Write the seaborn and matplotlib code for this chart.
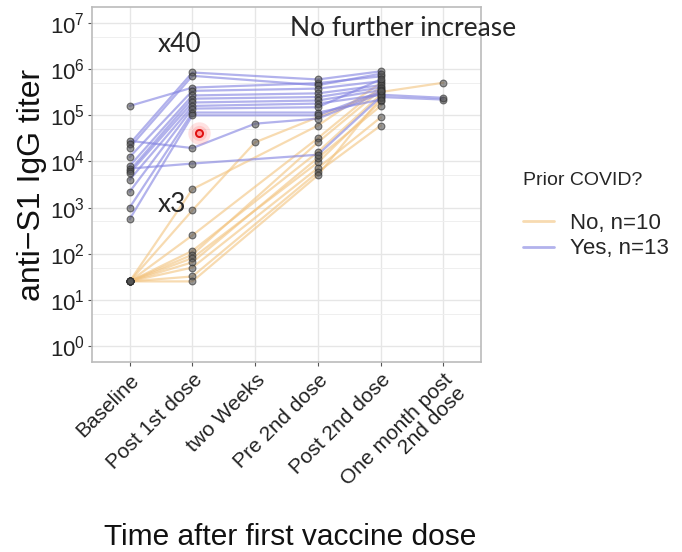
import numpy as np
import pandas as pd
import matplotlib
matplotlib.use("Agg")
import matplotlib.pyplot as plt
from matplotlib.ticker import FixedLocator, LogFormatterMathtext, NullFormatter
import seaborn as sns

# Sampling time points (x axis order)
timepoints = ["Baseline", "Post 1st dose", "two Weeks", "Pre 2nd dose",
              "Post 2nd dose", "One month post\n2nd dose"]

nan = np.nan
# anti-S1 IgG titers per participant: Baseline, Post 1st, two Weeks, Pre 2nd, Post 2nd, One month
prior_yes = [
    [160000, 400000, nan, 500000, 700000, nan],
    [28000, 19500, 66000, 85000, 300000, nan],
    [24000, 850000, nan, 600000, 900000, nan],
    [20000, 720000, nan, 450000, 800000, nan],
    [12500, 340000, nan, 380000, 550000, nan],
    [8000, 270000, nan, 300000, 450000, nan],
    [7000, 9000, nan, 14000, 250000, 220000],
    [6300, 230000, nan, 250000, 400000, nan],
    [5600, 190000, nan, 210000, 350000, nan],
    [4000, 160000, nan, 180000, 280000, 240000],
    [2200, 140000, nan, 150000, 600000, nan],
    [1000, 115000, nan, 115000, 220000, nan],
    [560, 100000, nan, 100000, 330000, nan],
]
prior_no = [
    [25, 2500, nan, 60000, 500000, nan],
    [25, 870, 26000, nan, 320000, 510000],
    [25, 250, nan, 32000, 420000, nan],
    [25, 115, nan, 16000, 280000, nan],
    [25, 95, nan, 26000, 350000, nan],
    [25, 80, nan, 9500, 200000, nan],
    [25, 65, nan, 12000, 160000, nan],
    [25, 50, nan, 7200, 90000, nan],
    [25, 32, nan, 5900, 60000, nan],
    [25, 25, nan, 5000, 240000, nan],
]
group_labels = ["No, n=10", "Yes, n=13"]

rows = []
for label, series in [(group_labels[0], prior_no), (group_labels[1], prior_yes)]:
    for i, vals in enumerate(series):
        for t, v in enumerate(vals):
            if not np.isnan(v):
                rows.append({"subject": f"{label[:2]}{i}", "group": label,
                             "time": t, "titer": v})
df = pd.DataFrame(rows)

sns.set_style("white")
plt.rcParams["font.family"] = ["Liberation Sans", "DejaVu Sans"]

fig = plt.figure(figsize=(6.82, 5.52), dpi=100)
ax = fig.add_axes([92 / 682, 1 - 362 / 552, (481 - 92) / 682, (362 - 7) / 552])

palette = {group_labels[0]: "#F3C37E", group_labels[1]: "#8080E0"}

sns.lineplot(data=df, x="time", y="titer", hue="group", units="subject",
             estimator=None, palette=palette, hue_order=group_labels,
             alpha=0.6, lw=1.6, sort=True, ax=ax, zorder=2)
sns.scatterplot(data=df, x="time", y="titer", color="#555555", alpha=0.6,
                edgecolor="#2a2a2a", linewidth=0.8, s=24, legend=False,
                ax=ax, zorder=3)

ax.set_yscale("log")
ax.set_ylim(10 ** -0.35, 10 ** 7.35)
ax.set_xlim(-0.6, 5.6)
ax.yaxis.set_major_locator(FixedLocator([10.0 ** k for k in range(8)]))
ax.yaxis.set_major_formatter(LogFormatterMathtext())
ax.yaxis.set_minor_locator(FixedLocator([5 * 10.0 ** k for k in range(7)]))
ax.yaxis.set_minor_formatter(NullFormatter())
ax.set_xticks(range(len(timepoints)))
ax.set_xticklabels(timepoints, rotation=45, ha="right", va="top",
                   rotation_mode="anchor", fontsize=15, color="#222222",
                   linespacing=0.95)
ax.tick_params(axis="y", which="major", labelsize=16, length=3,
               color="#555555", labelcolor="#222222", left=True, pad=2)
ax.tick_params(axis="x", which="major", length=3, color="#555555",
               bottom=True, pad=3)
ax.tick_params(axis="y", which="minor", length=0)

ax.grid(which="major", color="#E6E6E6", lw=1.0, zorder=0)
ax.grid(which="minor", axis="y", color="#EFEFEF", lw=0.7, zorder=0)
ax.set_axisbelow(True)
for sp in ax.spines.values():
    sp.set_color("#BBBBBB")
    sp.set_linewidth(1.2)

ax.set_xlabel("")
fig.text(290 / 682, 1 - 537 / 552, "Time after first vaccine dose",
         fontsize=21.5, color="#111111", ha="center", va="center")
ax.set_ylabel("anti\u2212S1 IgG titer", fontsize=23, color="#111111",
              labelpad=2)

sns.move_legend(ax, "upper left", bbox_to_anchor=(503 / 682, 1 - 152 / 552),
                bbox_transform=fig.transFigure, title="Prior COVID?\n",
                frameon=False, fontsize=16, title_fontsize=14,
                handlelength=1.4, handletextpad=0.7, labelspacing=0.2,
                alignment="left")
for h in ax.get_legend().get_lines():
    h.set_linewidth(2.0)

# Slide annotations
ann_font = ["Lato", "DejaVu Sans"]
fig.text(180 / 682, 1 - 45 / 552, "x40", fontsize=19, family=ann_font,
         ha="center", va="center")
fig.text(172 / 682, 1 - 205 / 552, "x3", fontsize=19, family=ann_font,
         ha="center", va="center")
fig.text(403 / 682, 1 - 28 / 552, "No further increase", fontsize=19,
         family=ann_font, ha="center", va="center")

# Pointer highlight
ax.scatter([1.1], [4.1e4], s=260, color="#FF6060", alpha=0.18, lw=0, zorder=5)
ax.scatter([1.1], [4.1e4], s=120, color="#FF6060", alpha=0.2, lw=0, zorder=5)
ax.scatter([1.1], [4.1e4], s=26, facecolor="#FF9A9A", edgecolor="#E01010",
           lw=1.4, zorder=6)

fig.savefig("out.png", dpi=100)
